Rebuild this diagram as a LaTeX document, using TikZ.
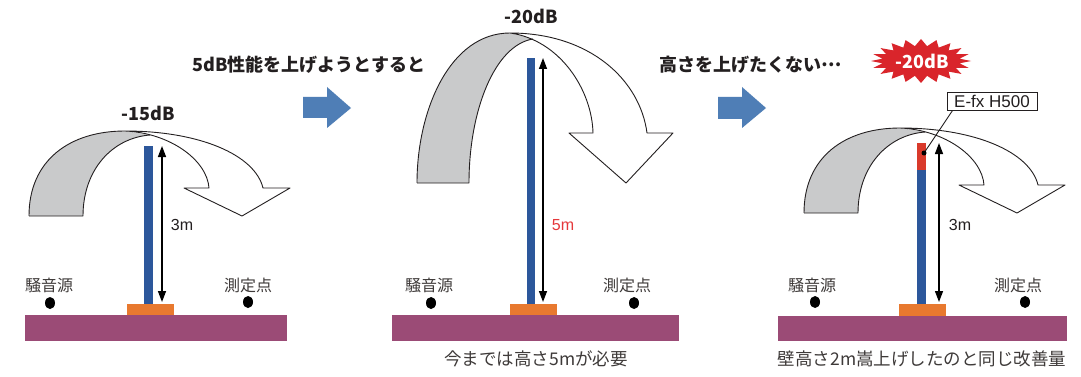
\documentclass[tikz,border=0pt]{standalone}
\usepackage{fontspec}
\setmainfont{Liberation Sans}
\newfontfamily\jp{Noto Sans CJK JP}
\usetikzlibrary{arrows.meta,shapes.geometric}
\definecolor{groundcol}{HTML}{9B4B76}
\definecolor{basecol}{HTML}{E8792F}
\definecolor{wallblue}{HTML}{2C579B}
\definecolor{wallred}{HTML}{D93A2B}
\definecolor{ribgray}{HTML}{C9CACB}
\definecolor{stepblue}{HTML}{4F7EB6}
\definecolor{txt}{HTML}{231F20}
\definecolor{lbl}{HTML}{3E3A39}
\definecolor{burstcol}{HTML}{D9252B}
\definecolor{redtxt}{HTML}{E5383B}
\tikzset{
  heading/.style={font=\jp\bfseries\fontsize{18}{18}\selectfont, text=txt, inner sep=0pt},
  placelbl/.style={font=\jp\fontsize{16}{16}\selectfont, text=lbl, inner sep=0pt},
  captionlbl/.style={font=\jp\fontsize{17.5}{17.5}\selectfont, text=lbl, inner sep=0pt},
  meas/.style={font=\fontsize{16}{16}\selectfont, text=txt, inner sep=0pt},
  ribline/.style={draw=txt, line width=0.9pt, line join=round},
  dimarrow/.style={{Triangle[width=8pt,length=11pt]}-{Triangle[width=8pt,length=11pt]}, line width=1.4pt, draw=black},
  dotmark/.style={fill=black, ellipse, minimum width=10pt, minimum height=12pt, inner sep=0pt},
  stepper/.style={fill=stepblue},
}
\newcommand{\ribbonone}{%
  \fill[ribgray] (29,216) .. controls (29,160) and (70,131) .. (125,131) -- (150,135)
     .. controls (112,138) and (83,170) .. (83,216) -- cycle;
  \draw[ribline] (29,216) .. controls (29,160) and (70,131) .. (125,131)
     .. controls (200,131) and (255,155) .. (263,188) -- (290,188) -- (242,216) -- (184,188) -- (209,188)
     .. controls (207,160) and (170,133) .. (125,131);
  \draw[ribline] (150,135) .. controls (112,138) and (83,170) .. (83,216) -- (29,216);
}
\begin{document}
\begin{tikzpicture}[x=1pt,y=-1pt]
\useasboundingbox (0,0) rectangle (1081,377);
\fill[white] (0,0) rectangle (1081,377);

% ---------- panel 1 ----------
\ribbonone
\fill[groundcol] (25,315) rectangle (287,341);
\fill[basecol] (127,304) rectangle (174,315);
\fill[wallblue] (144,146) rectangle (153,304);
\coordinate (a1t) at (162,146);
\coordinate (a1b) at (162,302);
\draw[dimarrow] (a1t) -- (a1b);
\node[meas] (h1) at (182,225) {3m};
\node[heading] (db1) at (148,113) {-15dB};
\node[placelbl] (src1) at (49,285) {騒音源};
\node[dotmark] (srcd1) at (50,303) {};
\node[placelbl] (rcv1) at (248,285) {測定点};
\node[dotmark] (rcvd1) at (248,302) {};

% ---------- step arrow 1 ----------
\node[heading] (t1) at (309,65) {5dB性能を上げようとすると};
\fill[stepper] (303,97) -- (327,97) -- (327,87) -- (351,108) -- (327,128) -- (327,118) -- (303,118) -- cycle;

% ---------- panel 2 ----------
\fill[ribgray] (417,183) .. controls (417,110) and (450,33) .. (510,33) -- (533,39)
   .. controls (495,45) and (469,110) .. (469,183) -- cycle;
\draw[ribline] (417,183) .. controls (417,110) and (450,33) .. (510,33)
   .. controls (590,33) and (640,80) .. (647,133) -- (673,133) -- (626,183) -- (569,133) -- (593,133)
   .. controls (592,90) and (560,40) .. (510,33);
\draw[ribline] (533,39) .. controls (495,45) and (469,110) .. (469,183) -- (417,183);
\fill[groundcol] (392,315) rectangle (679,341);
\fill[basecol] (510,304) rectangle (557,315);
\fill[wallblue] (527,58) rectangle (535,304);
\coordinate (a2t) at (543,58);
\coordinate (a2b) at (543,302);
\draw[dimarrow] (a2t) -- (a2b);
\node[meas, text=redtxt] (h2) at (563,225) {5m};
\node[heading] (db2) at (531,16) {-20dB};
\node[placelbl] (src2) at (429,285) {騒音源};
\node[dotmark] (srcd2) at (431,303) {};
\node[placelbl] (rcv2) at (627,285) {測定点};
\node[dotmark] (rcvd2) at (634,303) {};
\node[captionlbl] (cap2) at (536,359) {今までは高さ5mが必要};

% ---------- step arrow 2 ----------
\node[heading] (t2) at (751,65) {高さを上げたくない\raisebox{0.3em}{…}};
\fill[stepper] (718,97) -- (742,97) -- (742,87) -- (766,108) -- (742,128) -- (742,119) -- (718,119) -- cycle;

% ---------- panel 3 ----------
\begin{scope}[shift={(775,-3)}]
\ribbonone
\end{scope}
\fill[groundcol] (778,316) rectangle (1067,341);
\fill[basecol] (899,304) rectangle (946,316);
\fill[wallblue] (917,170) rectangle (926,304);
\fill[wallred] (917,143) rectangle (926,170);
\coordinate (a3t) at (939,143);
\coordinate (a3b) at (939,302);
\draw[dimarrow] (a3t) -- (a3b);
\node[meas] (h3) at (960,225) {3m};
\node[placelbl] (src3) at (812,285) {騒音源};
\node[dotmark] (srcd3) at (815,302) {};
\node[placelbl] (rcv3) at (1018,285) {測定点};
\node[dotmark] (rcvd3) at (1025,302) {};
\node[captionlbl] (cap3) at (922,359) {壁高さ2m嵩上げしたのと同じ改善量};

% starburst
\fill[burstcol] (971,61) \foreach \k in {1,...,39} {
   -- ({921+(50-11*isodd(\k))*cos(\k*9)}, {61+(22-7*isodd(\k))*sin(\k*9)}) } -- cycle;
\node[heading, text=white] (burst) at (922,61) {-20dB};

% product label
\node[draw=txt, fill=white, line width=0.8pt, font=\fontsize{17}{17}\selectfont, text=txt,
      minimum width=90pt, minimum height=18pt, inner sep=0pt] (efx) at (992,101) {E-fx H500};
\coordinate (efxdot) at (924,153);
\draw[line width=0.9pt, draw=txt] ([xshift=6pt]efx.south west) -- (efxdot);
\fill[black] (efxdot) circle (2.5);
\end{tikzpicture}
\end{document}
